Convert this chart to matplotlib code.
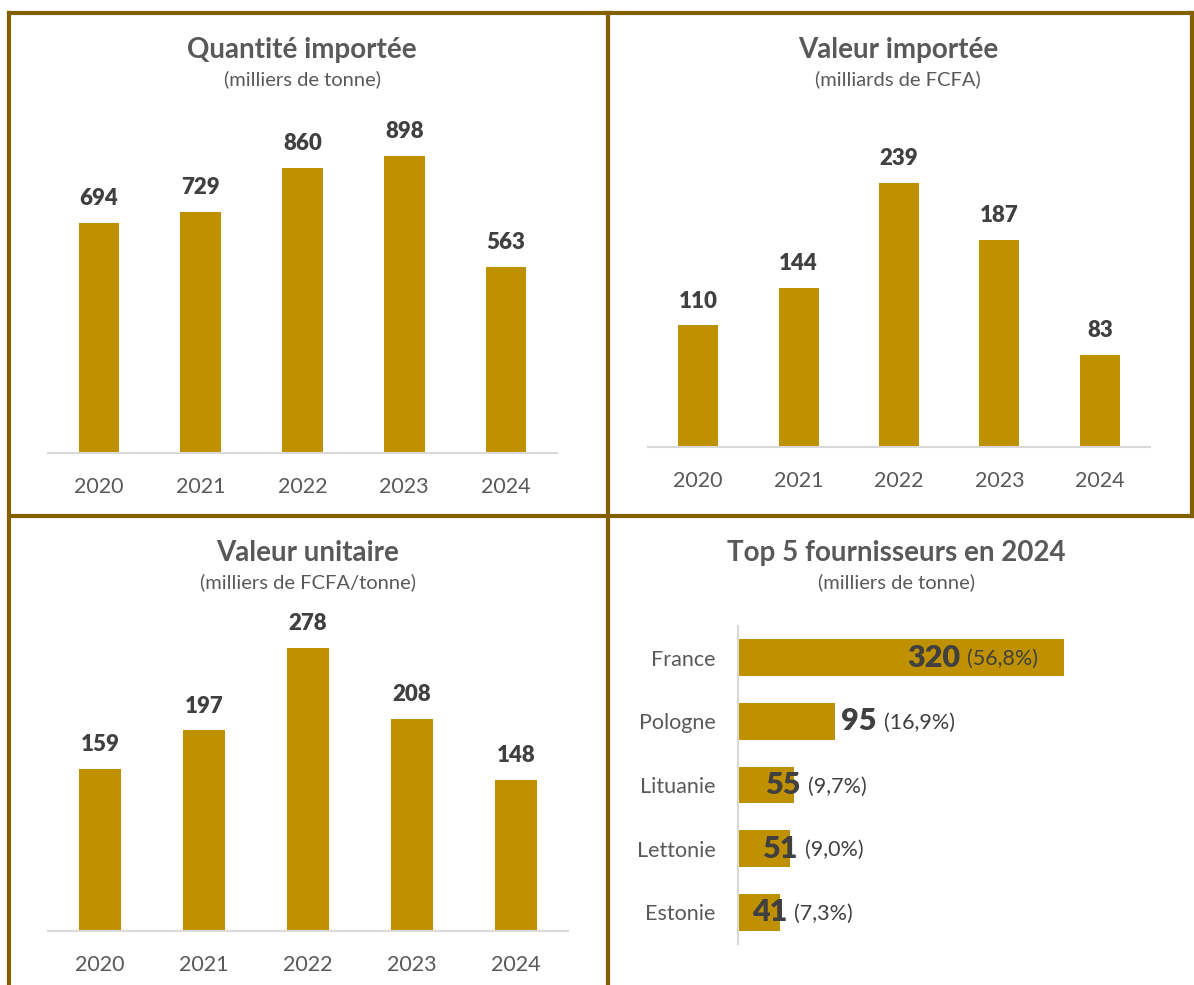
import matplotlib
matplotlib.use('Agg')
from matplotlib import pyplot as plt
from matplotlib.lines import Line2D

# ---- data
years = ['2020', '2021', '2022', '2023', '2024']
qte_importee = [694, 729, 860, 898, 563]          # milliers de tonne
val_importee = [110, 144, 239, 187, 83]           # milliards de FCFA
val_unitaire = [159, 197, 278, 208, 148]          # milliers de FCFA/tonne

pays = ['France', 'Pologne', 'Lituanie', 'Lettonie', 'Estonie']
fourn_qte = [320, 95, 55, 51, 41]                 # milliers de tonne
fourn_part = ['(56,8%)', '(16,9%)', '(9,7%)', '(9,0%)', '(7,3%)']

# label split point relative to the bar end (data units), as in the source
lbl_shift = [-99, 44, 10, 11, 10]

# ---- style
bar_col = '#BF9000'
frame_col = '#806000'
txt_col = '#595959'
lbl_col = '#404040'
axis_col = '#D9D9D9'
plt.rcParams['font.family'] = ['Lato', 'DejaVu Sans']

W, H = 1194, 985
fig = plt.figure(figsize=(W / 100, H / 100), dpi=100)
fig.patch.set_facecolor('white')


def ax_px(x0, x1, y_top, y_base):
    # axes from pixel box (top-left origin)
    return fig.add_axes([x0 / W, 1 - y_base / H, (x1 - x0) / W, (y_base - y_top) / H])


def titles(cx, cy, t, sub):
    fig.text(cx / W, 1 - cy / H, t, ha='center', va='center', fontsize=20,
             fontweight='bold', color=txt_col)
    fig.text(cx / W, 1 - (cy + 29) / H, sub, ha='center', va='center', fontsize=14.5,
             color=txt_col)


def col_chart(ax, vals, ymax):
    ax.bar(range(len(years)), vals, width=0.4, color=bar_col)
    ax.set_xlim(-0.5, 4.5)
    ax.set_ylim(0, ymax)
    for s in ['top', 'right', 'left']:
        ax.spines[s].set_visible(False)
    ax.spines['bottom'].set_color(axis_col)
    ax.spines['bottom'].set_linewidth(1.5)
    ax.set_yticks([])
    ax.set_xticks(range(len(years)))
    ax.set_xticklabels(years, fontsize=15.5, color=txt_col)
    ax.tick_params(axis='x', length=0, pad=17)
    for i, v in enumerate(vals):
        ax.annotate(str(v), (i, v), xytext=(0, 10), textcoords='offset points',
                    ha='center', va='bottom', fontsize=16, fontweight='heavy',
                    color=lbl_col)


## Chart 1 - Quantité importée
axis1 = ax_px(48, 557, 120, 453)
col_chart(axis1, qte_importee, 333 / 0.331)
titles(302, 50, 'Quantité importée', '(milliers de tonne)')

## Chart 2 - Valeur importée
axis2 = ax_px(648, 1150, 120, 447)
col_chart(axis2, val_importee, 327 / 1.105)
titles(898, 50, 'Valeur importée', '(milliards de FCFA)')

## Chart 3 - Valeur unitaire
axis3 = ax_px(48, 568, 610, 931)
col_chart(axis3, val_unitaire, 321 / 1.018)
titles(308, 553, 'Valeur unitaire', '(milliers de FCFA/tonne)')

## Chart 4 - Top 5 fournisseurs
axis4 = ax_px(738, 1100, 626, 944)
axis4.barh(range(len(pays)), fourn_qte, height=0.58, color=bar_col)
axis4.set_xlim(0, 362 / 1.019)
axis4.set_ylim(4.5, -0.5)
for s in ['top', 'right', 'bottom']:
    axis4.spines[s].set_visible(False)
axis4.spines['left'].set_color(axis_col)
axis4.spines['left'].set_linewidth(1.5)
axis4.set_xticks([])
axis4.set_yticks(range(len(pays)))
axis4.set_yticklabels(pays, fontsize=15.5, color=txt_col)
axis4.tick_params(axis='y', length=0, pad=16)
for i, v in enumerate(fourn_qte):
    xs = v + lbl_shift[i]
    axis4.annotate(str(v), (xs, i), xytext=(-2, 0), textcoords='offset points',
                   ha='right', va='center', fontsize=22, fontweight='heavy', color=lbl_col)
    axis4.annotate(fourn_part[i], (xs, i), xytext=(3, -1), textcoords='offset points',
                   ha='left', va='center', fontsize=15.5, color=lbl_col)
titles(896, 553, 'Top 5 fournisseurs en 2024', '(milliers de tonne)')

# ---- frame lines
lw = 3
for (x0, y0, x1, y1) in [(9, 13, 1194, 13), (9, 13, 9, 985), (608, 13, 608, 985),
                         (9, 516, 1194, 516), (1192, 13, 1192, 516)]:
    fig.add_artist(Line2D([x0 / W, x1 / W], [1 - y0 / H, 1 - y1 / H],
                          color=frame_col, linewidth=lw, transform=fig.transFigure))

fig.savefig('out.png', dpi=100)
